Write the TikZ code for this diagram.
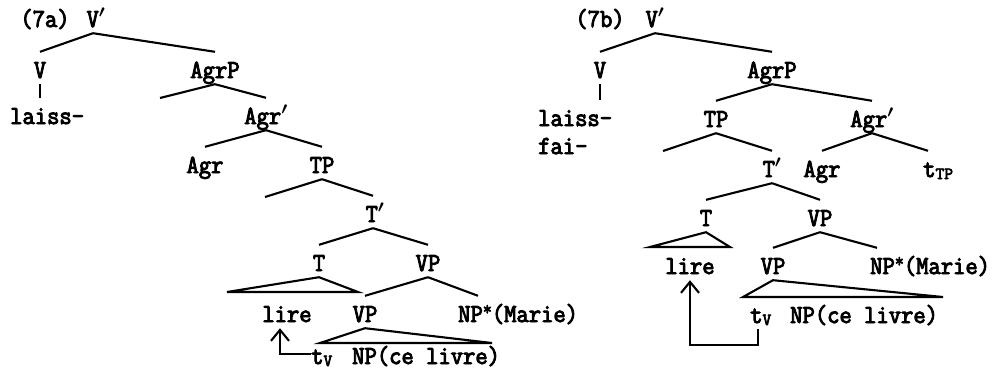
\documentclass[tikz,border=0pt]{standalone}
\usepackage{fontspec}
\newfontfamily\treefont[FakeStretch=0.92, FakeBold=3.5]{Latin Modern Mono}
\newfontfamily\subfont[FakeBold=4]{Latin Modern Mono}
\usetikzlibrary{arrows.meta}
\newcommand{\trsub}[1]{\raisebox{-2pt}{\subfont\fontsize{17}{17}\selectfont #1}}
\newcommand{\br}{{\boldmath$'$}}
\newcommand{\trstar}{\raisebox{7pt}{\fontsize{19}{19}\selectfont *}}

\begin{document}
\begin{tikzpicture}[x=1pt, y=-1pt, >={Straight Barb[length=11pt, width=18pt]},
    lbl/.style={font=\treefont\fontsize{26}{28}\selectfont, inner sep=0pt, anchor=base, text height=26pt, text depth=6pt},
    branch/.style={line width=2.1pt}]
  \useasboundingbox (0,0) rectangle (1003,375);

  % (7a)
  \node[lbl] (tagA) at (45,27) {(7a)};
  \node[lbl] (vbarA) at (96,27) {V\br};
  \node[lbl] (vA) at (40,78) {V};
  \node[lbl] (agrpA) at (215,78) {AgrP};
  \node[lbl, anchor=base west] (laissA) at (10,124) {laiss-};
  \node[lbl] (agrbarA) at (266,124) {Agr\br};
  \node[lbl] (agrA) at (205,173) {Agr};
  \node[lbl] (tpA) at (322,173) {TP};
  \node[lbl] (tbarA) at (375,222) {T\br};
  \node[lbl] (tA) at (319,271) {T};
  \node[lbl] (vpA) at (428,271) {VP};
  \node[lbl] (lireA) at (287,322) {lire};
  \node[lbl] (vplowA) at (365,322) {VP};
  \node[lbl, anchor=base west] (npmA) at (458,322) {NP\trstar(Marie)};
  \node[lbl, anchor=base west] (tvA) at (311,364) {t\trsub{V}};
  \node[lbl, anchor=base west] (nplivreA) at (352,364) {NP(ce livre)};
  \coordinate (specagrA) at (160,98);
  \coordinate (spectA) at (265,197);

  \draw[branch] ([xshift=-3pt]vbarA.south) -- (vA.north);
  \draw[branch] ([xshift=-3pt]vbarA.south) -- (agrpA.north);
  \draw[branch] (vA.south) -- (vA.south |- laissA.north);
  \draw[branch] (agrpA.south) -- (specagrA);
  \draw[branch] (agrpA.south) -- (agrbarA.north);
  \draw[branch] (agrbarA.south) -- (agrA.north);
  \draw[branch] (agrbarA.south) -- (tpA.north);
  \draw[branch] (tpA.south) -- (spectA);
  \draw[branch] (tpA.south) -- ([xshift=-2pt]tbarA.north);
  \draw[branch] ([xshift=-2pt]tbarA.south) -- (tA.north);
  \draw[branch] ([xshift=-2pt]tbarA.south) -- (vpA.north);
  \draw[branch] (tA.south) -- (227,292) -- (358,292) -- cycle;
  \draw[branch] (vpA.south) -- (vplowA.north);
  \draw[branch] (vpA.south) -- ([xshift=20pt]npmA.north west);
  \draw[branch] (vplowA.south) -- (320,343) -- (492,343) -- cycle;
  \draw[branch, ->] (tvA.west) -| ([xshift=-7pt]lireA.south);

  % (7b)
  \node[lbl] (tagB) at (600,27) {(7b)};
  \node[lbl] (vbarB) at (655,27) {V\br};
  \node[lbl] (vB) at (600,78) {V};
  \node[lbl] (agrpB) at (772,78) {AgrP};
  \node[lbl, anchor=base west] (laissB) at (538,126) {laiss-};
  \node[lbl, anchor=base west] (faiB) at (538,154) {fai-};
  \node[lbl] (tpB) at (716,127) {TP};
  \node[lbl] (agrbarB) at (872,127) {Agr\br};
  \node[lbl] (tbarB) at (772,177) {T\br};
  \node[lbl] (agrB) at (822,177) {Agr};
  \node[lbl, anchor=base west] (ttpB) at (923,177) {t\trsub{TP}};
  \node[lbl] (tB) at (706,226) {T};
  \node[lbl] (vpB) at (820,226) {VP};
  \node[lbl] (lireB) at (690,274) {lire};
  \node[lbl] (vplowB) at (773,274) {VP};
  \node[lbl, anchor=base west] (npmB) at (870,274) {NP\trstar(Marie)};
  \node[lbl, anchor=base west] (tvB) at (750,323) {t\trsub{V}};
  \node[lbl, anchor=base west] (nplivreB) at (790,323) {NP(ce livre)};
  \coordinate (spectB) at (663,151);

  \draw[branch] (vbarB.south) -- (vB.north);
  \draw[branch] (vbarB.south) -- (agrpB.north);
  \draw[branch] (vB.south) -- (vB.south |- laissB.north);
  \draw[branch] (agrpB.south) -- (tpB.north);
  \draw[branch] (agrpB.south) -- (agrbarB.north);
  \draw[branch] (tpB.south) -- (spectB);
  \draw[branch] (tpB.south) -- (tbarB.north);
  \draw[branch] (agrbarB.south) -- (agrB.north);
  \draw[branch] (agrbarB.south) -- ([xshift=5pt]ttpB.north west);
  \draw[branch] (tbarB.south) -- (tB.north);
  \draw[branch] (tbarB.south) -- (vpB.north);
  \draw[branch] (tB.south) -- (650,247) -- (730,247) -- cycle;
  \draw[branch] (vpB.south) -- (vplowB.north);
  \draw[branch] (vpB.south) -- ([xshift=7pt]npmB.north west);
  \draw[branch] (vplowB.south) -- (743,297) -- (943,297) -- cycle;
  \draw[branch, ->] ([xshift=-3pt]tvB.south) -- ++(0,16) -| (lireB.south);
\end{tikzpicture}
\end{document}
